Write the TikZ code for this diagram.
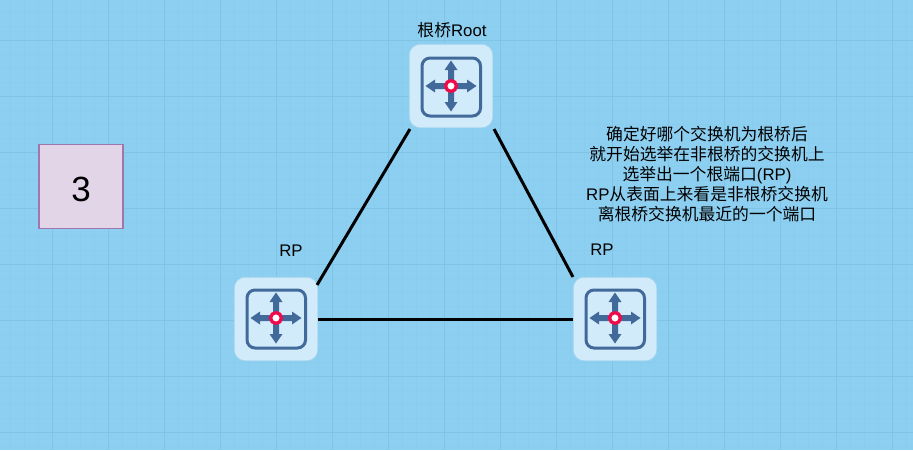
\documentclass[tikz,border=0pt]{standalone}
\usepackage{fontspec}
\setmainfont{Liberation Sans}
\newfontfamily\cjk{Noto Sans CJK SC}
\definecolor{bgc}{HTML}{8DCFF0}
\definecolor{minorc}{HTML}{8ACCED}
\definecolor{majorc}{HTML}{81C3E5}
\definecolor{iconc}{HTML}{41699A}
\definecolor{tilec}{HTML}{D2EBFA}
\definecolor{tileb}{HTML}{A9D6F0}
\definecolor{redc}{HTML}{EF0A4A}
\definecolor{numfill}{HTML}{E1D5E7}
\definecolor{numdraw}{HTML}{A076B0}
\tikzset{
  x=1pt,y=-1pt,
  tile/.style={minimum width=83.5pt,minimum height=83.5pt,inner sep=0pt,rounded corners=11pt,fill=tilec,draw=tileb,line width=.6pt},
  lbl/.style={font=\fontsize{16.8}{20}\selectfont,inner sep=0pt,text=black},
  link/.style={line width=3pt,black},
  arm/.style={fill=iconc,draw=none},
  sw/.pic={
    \draw[iconc,line width=3pt,rounded corners=8pt] (-29,-28) rectangle (29.5,30);
    \foreach \a in {0,90,180,270}{
      \fill[arm,rotate=\a] (0,-3) -- (16,-3) -- (16,-6.5) -- (25.5,0) -- (16,6.5) -- (16,3) -- (0,3) -- cycle;
    }
    \draw[redc,line width=3.3pt,fill=white] (0,0) circle (5.4pt);
  }
}
\begin{document}
\begin{tikzpicture}
\useasboundingbox (0,0) rectangle (913,450);
\fill[bgc] (0,0) rectangle (913,450);
\foreach \i in {0,...,66}{\draw[minorc,line width=.6pt] ({-4+14*\i},0) -- ({-4+14*\i},450);}
\foreach \i in {0,...,33}{\draw[minorc,line width=.6pt] (0,{-2+14*\i}) -- (913,{-2+14*\i});}
\foreach \i in {0,...,16}{\draw[majorc,line width=.7pt] ({-4+56*\i},0) -- ({-4+56*\i},450);}
\foreach \i in {0,...,8}{\draw[majorc,line width=.7pt] (0,{-16+56*\i}) -- (913,{-16+56*\i});}

\node[minimum width=84pt,minimum height=84pt,inner sep=0pt,fill=numfill,draw=numdraw,line width=1.2pt,text height=29pt,text depth=0pt,font=\fontsize{35}{35}\selectfont] (num) at (81,186.5) {3};

\node[tile] (root) at (451,86) {};
\node[tile] (left) at (276,319) {};
\node[tile] (right) at (615,319) {};
\pic at (root.center) {sw};
\pic at ([yshift=1pt]left.center) {sw};
\pic at ([yshift=1pt]right.center) {sw};

\draw[link] ([xshift=1pt,yshift=-1pt]root.south west) -- ([xshift=-1pt,yshift=-8pt]left.north east);
\draw[link] ([xshift=1pt,yshift=-1pt]root.south east) -- (right.north west);
\draw[link] (left.east) -- (right.west);

\node[lbl] (rootlabel) at (452,30) {{\cjk 根桥}Root};
\node[lbl] (rpl) at (291,250.5) {RP};
\node[lbl] (rpr) at (602,250) {RP};
\node[lbl,align=center] (note) at (707,174) {{\cjk 确定好哪个交换机为根桥后}\\{\cjk 就开始选举在非根桥的交换机上}\\{\cjk 选举出一个根端口}(RP)\\RP{\cjk 从表面上来看是非根桥交换机}\\{\cjk 离根桥交换机最近的一个端口}};
\end{tikzpicture}
\end{document}
